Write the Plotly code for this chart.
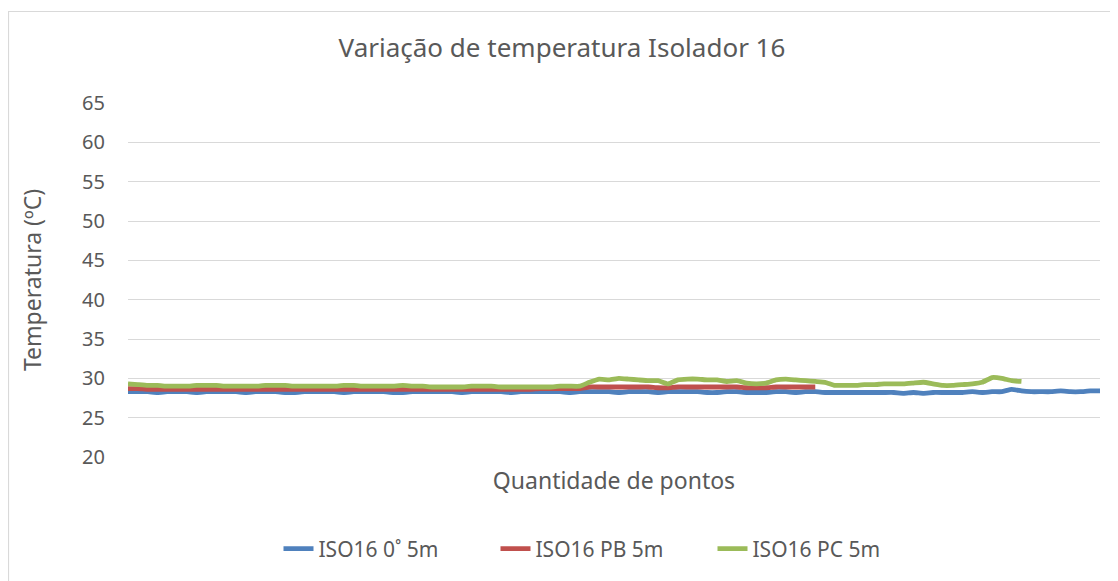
import plotly.graph_objects as go

# ---- data ----
blue_name = "ISO16 0˚ 5m"
red_name = "ISO16 PB 5m"
green_name = "ISO16 PC 5m"

blue_vals = [
    28.3, 28.3, 28.3, 28.2, 28.3, 28.3, 28.3, 28.2, 28.3, 28.3,
    28.3, 28.3, 28.2, 28.3, 28.3, 28.3, 28.2, 28.2, 28.3, 28.3,
    28.3, 28.3, 28.2, 28.3, 28.3, 28.3, 28.3, 28.2, 28.2, 28.3,
    28.3, 28.3, 28.3, 28.3, 28.2, 28.3, 28.3, 28.3, 28.3, 28.2,
    28.3, 28.3, 28.3, 28.3, 28.3, 28.2, 28.3, 28.3, 28.3, 28.3,
    28.2, 28.3, 28.3, 28.3, 28.2, 28.3, 28.3, 28.3, 28.3, 28.2,
    28.2, 28.3, 28.3, 28.2, 28.2, 28.2, 28.3, 28.3, 28.2, 28.3,
    28.3, 28.2, 28.2, 28.2, 28.2, 28.2, 28.2, 28.2, 28.2, 28.1,
    28.2, 28.1, 28.2, 28.2, 28.2, 28.2, 28.3, 28.2, 28.3, 28.3,
    28.6, 28.4, 28.3, 28.3, 28.3, 28.4, 28.3, 28.3, 28.4, 28.4,
]

red_vals = [
    28.7, 28.7, 28.6, 28.6, 28.6, 28.6, 28.6, 28.6, 28.6, 28.6,
    28.6, 28.6, 28.6, 28.6, 28.6, 28.6, 28.6, 28.6, 28.6, 28.6,
    28.6, 28.6, 28.6, 28.6, 28.6, 28.6, 28.6, 28.6, 28.6, 28.6,
    28.6, 28.6, 28.6, 28.6, 28.6, 28.6, 28.6, 28.6, 28.6, 28.6,
    28.6, 28.6, 28.7, 28.7, 28.7, 28.7, 28.7, 28.9, 28.9, 28.9,
    28.9, 28.9, 28.9, 28.9, 28.8, 28.8, 28.9, 28.9, 28.9, 28.9,
    28.9, 28.9, 28.9, 28.8, 28.8, 28.8, 28.9, 28.9, 28.9, 28.9,
    28.9,
]

green_vals = [
    29.3, 29.2, 29.1, 29.1, 29.0, 29.0, 29.0, 29.1, 29.1, 29.1,
    29.0, 29.0, 29.0, 29.0, 29.1, 29.1, 29.1, 29.0, 29.0, 29.0,
    29.0, 29.0, 29.1, 29.1, 29.0, 29.0, 29.0, 29.0, 29.1, 29.0,
    29.0, 28.9, 28.9, 28.9, 28.9, 29.0, 29.0, 29.0, 28.9, 28.9,
    28.9, 28.9, 28.9, 28.9, 29.0, 29.0, 29.0, 29.5, 29.9, 29.8,
    30.0, 29.9, 29.8, 29.7, 29.7, 29.3, 29.8, 29.9, 29.9, 29.8,
    29.8, 29.6, 29.7, 29.4, 29.3, 29.4, 29.8, 29.9, 29.8, 29.7,
    29.6, 29.5, 29.1, 29.1, 29.1, 29.2, 29.2, 29.3, 29.3, 29.3,
    29.4, 29.5, 29.3, 29.1, 29.1, 29.2, 29.3, 29.5, 30.1, 30.0,
    29.7, 29.6,
]

title_text = "Variação de temperatura Isolador 16"
y_title = "Temperatura (ºC)"
x_title = "Quantidade de pontos"
y_ticks = [20, 25, 30, 35, 40, 45, 50, 55, 60, 65]

# ---- layout geometry (page has an 8px body margin) ----
OFF = 8
W, H = 1118 - OFF, 581 - OFF
L = 128 - OFF
T = 103 - OFF
R = W - (1100 - OFF)
B = H - (457 - OFF)
pw, ph = W - L - R, H - T - B

FONT = "Noto Sans"
GREY = "#595959"


def px2x(p):  # window px -> paper x
    return (p - OFF - L) / pw


def px2y(p):  # window px -> paper y
    return (H - B - (p - OFF)) / ph


fig = go.Figure()
for name, vals, color in [
    (blue_name, blue_vals, "#4f81bd"),
    (red_name, red_vals, "#c0504d"),
    (green_name, green_vals, "#9bbb59"),
]:
    fig.add_trace(go.Scatter(
        x=list(range(len(vals))), y=vals, mode="lines", name=name,
        line=dict(color=color, width=4.8, shape="spline", smoothing=0.3),
    ))

fig.update_layout(
    width=W, height=H,
    margin=dict(l=L, r=R, t=T, b=B),
    paper_bgcolor="white", plot_bgcolor="white",
    font=dict(family=FONT, color=GREY, size=20),
    title=dict(text=title_text, x=(562 - OFF) / W, xref="container", xanchor="center",
               y=1 - (48 - OFF) / H, yref="container", yanchor="middle",
               font=dict(family=FONT, size=26, color=GREY)),
    showlegend=True,
    legend=dict(orientation="h", x=px2x(604), xanchor="center",
                y=px2y(549), yanchor="middle",
                font=dict(family=FONT, size=21, color=GREY),
                bgcolor="rgba(0,0,0,0)", entrywidth=172, entrywidthmode="pixels"),
    xaxis=dict(range=[0, len(blue_vals) - 1], showgrid=False, zeroline=False,
               showticklabels=False, ticks="", showline=False,
               title=dict(text=x_title, font=dict(family=FONT, size=23, color=GREY),
                          standoff=15)),
    yaxis=dict(range=[20, 65], tickvals=y_ticks, showgrid=True, gridcolor="#d9d9d9",
               gridwidth=1, zeroline=False, showline=False, ticks="",
               tickfont=dict(family=FONT, size=20, color=GREY), ticklabelstandoff=22,
               title=dict(text=y_title, font=dict(family=FONT, size=23, color=GREY),
                          standoff=34)),
    shapes=[dict(type="rect", xref="paper", yref="paper",
                 x0=px2x(8.5), x1=px2x(1130), y0=px2y(600), y1=px2y(11.5),
                 line=dict(color="#d9d9d9", width=1.2), fillcolor="rgba(0,0,0,0)",
                 layer="below")],
)

fig.write_html("out.html")
